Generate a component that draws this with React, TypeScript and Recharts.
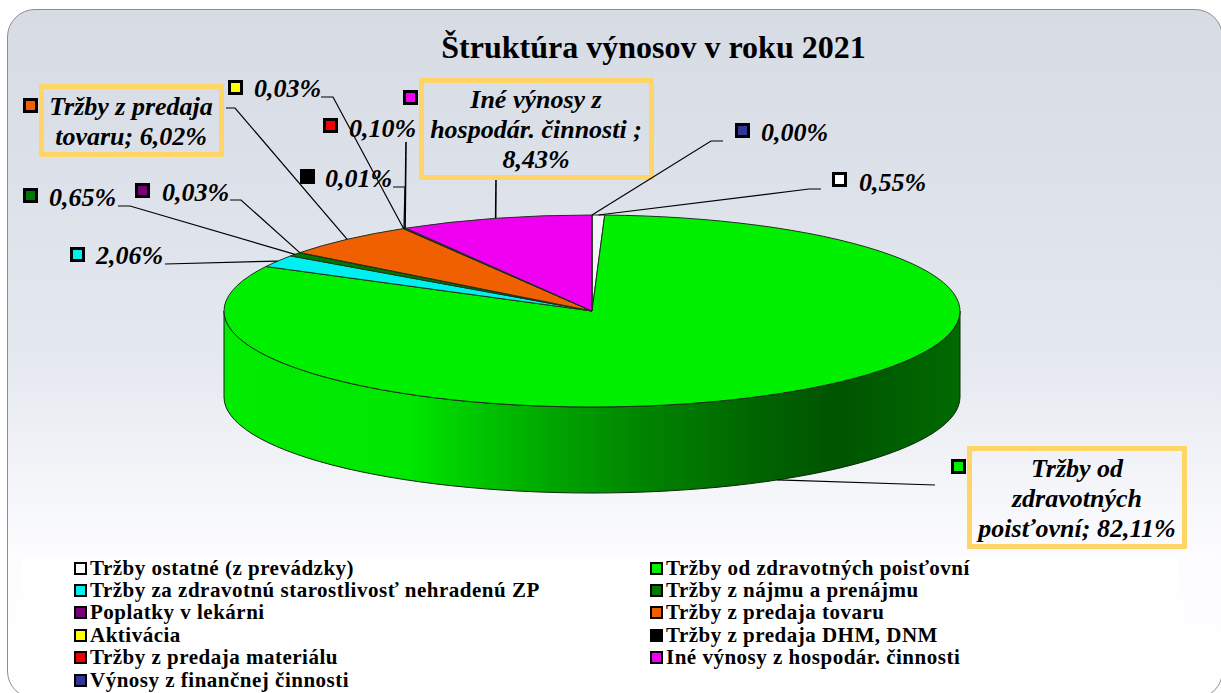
import React from 'react'
import { PieChart, Pie, Legend } from 'recharts'

const CHART_TITLE = 'Štruktúra výnosov v roku 2021'

const categories = [
  'Tržby ostatné (z prevádzky)',
  'Tržby od zdravotných poisťovní',
  'Tržby za zdravotnú starostlivosť nehradenú ZP',
  'Tržby z nájmu a prenájmu',
  'Poplatky v lekárni',
  'Tržby z predaja tovaru',
  'Aktivácia',
  'Tržby z predaja DHM, DNM',
  'Tržby z predaja materiálu',
  'Iné výnosy z hospodár. činnosti',
  'Výnosy z finančnej činnosti',
]
const shares = [0.55, 82.11, 2.06, 0.65, 0.03, 6.02, 0.03, 0.01, 0.1, 8.43, 0.0]
const colors = [
  '#ffffff',
  '#00f000',
  '#00f0f0',
  '#007800',
  '#7a007a',
  '#f06000',
  '#ffff00',
  '#000000',
  '#f00000',
  '#f000f0',
  '#333399',
]
// the three big callouts have their text wrapped by hand
const calloutLines: Record<number, string[]> = {
  1: ['Tržby od', 'zdravotných', 'poisťovní; 82,11%'],
  5: ['Tržby z predaja', 'tovaru; 6,02%'],
  9: ['Iné výnosy z', 'hospodár. činnosti ;', '8,43%'],
}

const data = categories.map((name, i) => ({ name, value: shares[i], fill: colors[i] }))

const CX = 592
const CY = 311
const RX = 368
const RY = 96
const DEPTH = 86
const K = RY / RX

// marker = top left of the swatch, text = start x + baseline, elbow = where the leader bends
const labelLayout = [
  { marker: [832, 172], text: [859, 191], from: [821, 189], elbow: [809, 189] },
  { marker: [951, 459], text: [1077, 477], from: [935, 485], elbow: null, box: [967, 446, 220, 103] },
  { marker: [70, 247], text: [96, 264], from: [165, 264], elbow: null },
  { marker: [23, 188], text: [49, 206], from: [118, 206], elbow: [130, 206] },
  { marker: [135, 183], text: [162, 201], from: [230, 200], elbow: [241, 200] },
  { marker: [23, 98], text: [131, 115], from: [226, 108], elbow: [235, 108], box: [39, 84, 185, 73] },
  { marker: [228, 80], text: [254, 97], from: [321, 97], elbow: [333, 97] },
  { marker: [300, 169], text: [325, 187], from: [393, 187], elbow: [405, 187] },
  { marker: [323, 118], text: [349, 137], from: [406, 142], elbow: null },
  { marker: [403, 90], text: [536, 108], from: [496, 180], elbow: null, box: [419, 78, 235, 102] },
  { marker: [735, 123], text: [761, 141], from: [723, 141], elbow: [711, 141] },
]

const ellipsePoint = (angle: number, r: number, cx: number, cy: number) => {
  const rad = (angle * Math.PI) / 180
  return [cx + r * Math.cos(rad), cy - r * K * Math.sin(rad)]
}

// Recharts only knows round sectors, so tilt them into an ellipse and add the wall
const renderSector = (props: any) => {
  const { cx, cy, outerRadius: r, startAngle, endAngle, fill } = props
  const ry = r * K
  const [sx, sy] = ellipsePoint(startAngle, r, cx, cy)
  const [ex, ey] = ellipsePoint(endAngle, r, cx, cy)
  const large = Math.abs(startAngle - endAngle) > 180 ? 1 : 0
  const top = `M${cx},${cy}L${sx},${sy}A${r},${ry} 0 ${large} 1 ${ex},${ey}Z`

  const wallFrom = Math.min(startAngle, 0)
  const wallTo = Math.max(endAngle, -180)
  let wall = null
  if (wallFrom > wallTo) {
    const [ax, ay] = ellipsePoint(wallFrom, r, cx, cy)
    const [bx, by] = ellipsePoint(wallTo, r, cx, cy)
    const d =
      `M${ax},${ay}A${r},${ry} 0 0 1 ${bx},${by}` +
      `L${bx},${by + DEPTH}A${r},${ry} 0 0 0 ${ax},${ay + DEPTH}Z`
    wall = <path d={d} fill="url(#wallGreen)" stroke="#0a2a0a" strokeWidth={1} />
  }
  return (
    <g>
      {wall}
      <path
        d={top}
        fill={fill}
        fillOpacity={fill === '#ffffff' ? 0.6 : 1}
        stroke="#203020"
        strokeWidth={1}
        strokeLinejoin="round"
      />
    </g>
  )
}

const renderLabel = (props: any) => {
  const { index, midAngle, cx, cy, outerRadius, value, fill } = props
  const layout = labelLayout[index]
  let [px, py] = ellipsePoint(midAngle, outerRadius, cx, cy)
  if (Math.sin((midAngle * Math.PI) / 180) < 0) py += DEPTH
  const pts = [layout.from, layout.elbow, [px, py]].filter(Boolean) as number[][]
  const lines = calloutLines[index]
  return (
    <g key={index} fontFamily="'Liberation Serif', serif" fontWeight="bold" fontStyle="italic" fontSize={26}>
      <polyline
        points={pts.map((p) => p.join(',')).join(' ')}
        fill="none"
        stroke="#000"
        strokeWidth={index === 9 || index === 8 ? 1.6 : 1.2}
      />
      {layout.box && (
        <rect
          x={layout.box[0] + 2.5}
          y={layout.box[1] + 2.5}
          width={layout.box[2] - 5}
          height={layout.box[3] - 5}
          fill="none"
          stroke="#ffd566"
          strokeWidth={5}
        />
      )}
      <rect
        x={layout.marker[0] + 1.5}
        y={layout.marker[1] + 1.5}
        width={12}
        height={12}
        fill={fill}
        stroke="#000"
        strokeWidth={3}
      />
      {lines ? (
        lines.map((line, i) => (
          <text key={line} x={layout.text[0]} y={layout.text[1] + i * 30} textAnchor="middle" fill="#000">
            {line}
          </text>
        ))
      ) : (
        <text x={layout.text[0]} y={layout.text[1]} fill="#000">
          {value.toFixed(2).replace('.', ',') + '%'}
        </text>
      )}
    </g>
  )
}

const renderLegend = ({ payload }: any) => (
  <div
    style={{
      display: 'grid',
      gridTemplateColumns: '576px 1fr',
      gridAutoRows: '22.4px',
      paddingLeft: 52,
      paddingTop: 0,
      fontFamily: "'Liberation Serif', serif",
      fontWeight: 'bold',
      fontSize: 21,
      letterSpacing: 0.5,
      color: '#000',
    }}
  >
    {(payload || []).map((item: any) => (
      <div key={item.value} style={{ display: 'flex', alignItems: 'center', whiteSpace: 'nowrap' }}>
        <span
          style={{
            display: 'inline-block',
            boxSizing: 'border-box',
            width: 13,
            height: 13,
            marginRight: 3,
            background: item.color,
            border: '2.5px solid #000',
          }}
        />
        {item.value}
      </div>
    ))}
  </div>
)

export default function App() {
  return (
    <div style={{ position: 'absolute', left: 0, top: 0, width: 1221, height: 693, overflow: 'hidden', background: '#fff' }}>
      <div
        style={{
          position: 'absolute',
          left: 7,
          top: 9,
          width: 1216,
          height: 690,
          boxSizing: 'border-box',
          borderRadius: 28,
          border: '1.5px solid #8c8c8c',
          background: 'linear-gradient(180deg, #d6dbe4 0%, #e4e8ef 50%, #fdfdff 80%, #ffffff 100%)',
        }}
      />
      <PieChart width={1221} height={693} margin={{ top: 0, right: 0, bottom: 0, left: 0 }} style={{ position: 'absolute', left: 0, top: 0 }}>
        <defs>
          <linearGradient id="wallGreen" x1="0" y1="0" x2="1" y2="0">
            <stop offset="0%" stopColor="#00ec00" />
            <stop offset="25%" stopColor="#00e800" />
            <stop offset="35%" stopColor="#00c400" />
            <stop offset="45%" stopColor="#00a400" />
            <stop offset="57%" stopColor="#008400" />
            <stop offset="73%" stopColor="#006400" />
            <stop offset="83%" stopColor="#005400" />
            <stop offset="100%" stopColor="#006a00" />
          </linearGradient>
        </defs>
        <text
          x={653.5}
          y={58}
          textAnchor="middle"
          fontFamily="'Liberation Serif', serif"
          fontWeight="bold"
          fontSize={32}
          fill="#000"
        >
          {CHART_TITLE}
        </text>
        <Pie
          data={data}
          dataKey="value"
          nameKey="name"
          cx={CX}
          cy={CY}
          innerRadius={0}
          outerRadius={RX}
          startAngle={90}
          endAngle={-270}
          stroke="none"
          shape={renderSector}
          label={renderLabel}
          labelLine={false}
          isAnimationActive={false}
        />
        <Legend
          content={renderLegend}
          itemSorter={null}
          wrapperStyle={{ position: 'absolute', left: 22, top: 557, bottom: 'auto', width: 1156, height: 136, background: '#fff' }}
        />
      </PieChart>
    </div>
  )
}
